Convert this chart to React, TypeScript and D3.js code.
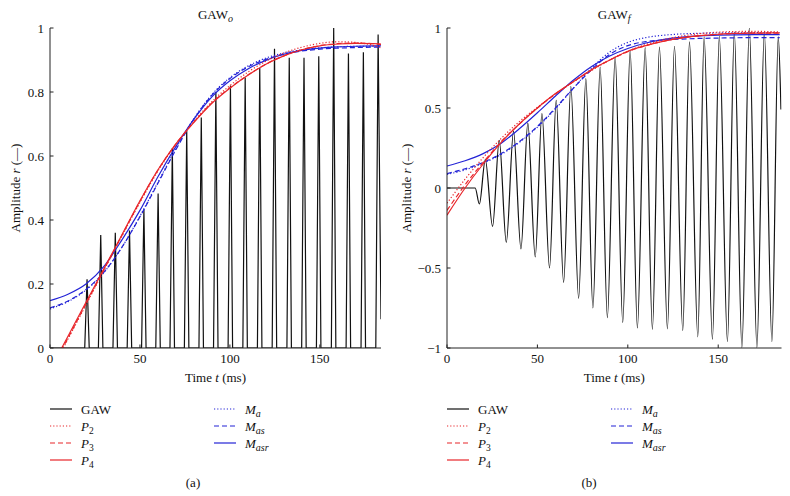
import React from "react";
import * as d3 from "d3";

// time grid (ms) for the fitted envelopes
const fitT = [0, 10, 20, 30, 40, 50, 60, 70, 80, 90, 100, 110, 120, 130, 140, 150, 160, 170, 180, 184];

// panel (a): GAW_o
const p2O = [-0.08, 0.028, 0.135, 0.243, 0.35, 0.455, 0.553, 0.637, 0.708, 0.77, 0.82, 0.862, 0.896, 0.922, 0.94, 0.952, 0.957, 0.955, 0.945, 0.938];
const p3O = [-0.075, 0.031, 0.138, 0.245, 0.352, 0.458, 0.556, 0.638, 0.706, 0.766, 0.813, 0.853, 0.887, 0.913, 0.932, 0.945, 0.951, 0.953, 0.951, 0.948];
const p4O = [-0.069, 0.037, 0.143, 0.248, 0.354, 0.46, 0.557, 0.638, 0.705, 0.765, 0.812, 0.852, 0.887, 0.913, 0.932, 0.944, 0.95, 0.952, 0.951, 0.95];
const maO = [0.122, 0.145, 0.181, 0.236, 0.315, 0.412, 0.518, 0.623, 0.717, 0.792, 0.845, 0.881, 0.906, 0.922, 0.932, 0.938, 0.941, 0.943, 0.943, 0.943];
const masO = [0.125, 0.147, 0.183, 0.237, 0.315, 0.41, 0.515, 0.62, 0.715, 0.79, 0.842, 0.878, 0.902, 0.918, 0.928, 0.934, 0.937, 0.939, 0.94, 0.94];
const masrO = [0.148, 0.168, 0.2, 0.255, 0.338, 0.43, 0.535, 0.63, 0.715, 0.785, 0.835, 0.872, 0.899, 0.918, 0.93, 0.937, 0.941, 0.943, 0.944, 0.944];

// glottal pulses of GAW_o: peak time (ms) and peak amplitude
const pulseT = [20.6, 28.2, 36.3, 44.2, 52.2, 60.1, 68.0, 76.0, 84.1, 92.2, 100.3, 108.5, 116.6, 124.8, 133.0, 141.2, 149.4, 157.7, 165.9, 174.2, 182.4];
const pulseV = [0.215, 0.353, 0.36, 0.367, 0.433, 0.483, 0.625, 0.68, 0.72, 0.8, 0.82, 0.845, 0.875, 0.935, 0.907, 0.907, 0.912, 1.0, 0.92, 0.924, 0.98];
const gawOEnd = [184, 0.09];

// panel (b): GAW_f
const p2F = [-0.095, 0.055, 0.19, 0.31, 0.415, 0.505, 0.588, 0.664, 0.735, 0.8, 0.855, 0.897, 0.928, 0.95, 0.965, 0.974, 0.978, 0.979, 0.977, 0.975];
const p3F = [-0.14, 0.02, 0.16, 0.29, 0.4, 0.5, 0.588, 0.665, 0.738, 0.8, 0.852, 0.89, 0.918, 0.938, 0.952, 0.961, 0.966, 0.968, 0.968, 0.967];
const p4F = [-0.17, 0.0, 0.15, 0.285, 0.4, 0.5, 0.59, 0.665, 0.74, 0.8, 0.855, 0.89, 0.918, 0.938, 0.952, 0.961, 0.966, 0.968, 0.969, 0.969];
const maF = [0.085, 0.113, 0.155, 0.21, 0.285, 0.38, 0.495, 0.625, 0.75, 0.85, 0.91, 0.94, 0.955, 0.963, 0.967, 0.969, 0.97, 0.971, 0.971, 0.971];
const masF = [0.09, 0.12, 0.16, 0.215, 0.29, 0.385, 0.5, 0.625, 0.74, 0.835, 0.89, 0.915, 0.925, 0.931, 0.935, 0.937, 0.939, 0.94, 0.94, 0.94];
const masrF = [0.1375, 0.17, 0.215, 0.28, 0.37, 0.47, 0.575, 0.675, 0.76, 0.825, 0.872, 0.906, 0.929, 0.943, 0.951, 0.955, 0.957, 0.958, 0.958, 0.958];

// GAW_f extremes
const gawFStart = [[0, 0], [15.6, 0]];
const troughT = [17.9, 25.2, 32.8, 40.9, 48.8, 56.7, 64.5, 72.8, 80.7, 88.7, 97.2, 105.3, 113.6, 121.9, 130.4, 138.7, 146.8, 155.1, 163.1, 171.4, 179.7];
const troughV = [-0.1, -0.24, -0.34, -0.38, -0.43, -0.5, -0.59, -0.69, -0.75, -0.81, -0.84, -0.875, -0.883, -0.88, -0.89, -0.93, -0.945, -0.96, -0.997, -0.997, -0.96];
const peakT = [21.2, 28.9, 36.8, 44.7, 52.5, 60.4, 68.5, 76.8, 84.7, 93.0, 101.3, 109.6, 117.5, 125.8, 134.1, 142.2, 150.6, 158.9, 167.2, 175.5, 183.2];
const peakV = [0.177, 0.298, 0.356, 0.406, 0.465, 0.548, 0.636, 0.684, 0.756, 0.819, 0.86, 0.877, 0.881, 0.886, 0.913, 0.944, 0.948, 0.975, 1.0, 0.975, 0.944];
const gawFEnd = [184.7, 0.49];

const ticksO = [0, 0.2, 0.4, 0.6, 0.8, 1];
const ticksF = [-1, -0.5, 0, 0.5, 1];
const ticksT = [0, 50, 100, 150];

const RED = "#e8262b";
const BLUE = "#2323d6";
const FONT = "'Liberation Serif', 'DejaVu Serif', serif";

const styles = {
  p2: { color: RED, dash: "1.2,2" },
  p3: { color: RED, dash: "5,3" },
  p4: { color: RED, dash: undefined },
  ma: { color: BLUE, dash: "1.2,2" },
  mas: { color: BLUE, dash: "5,3" },
  masr: { color: BLUE, dash: undefined },
};

type Fit = { key: keyof typeof styles; v: number[] };

function Panel({ id, left, right, yDomain, tMax, yTicks, title, sub, gaw, curve, fits, letter, ylabelX, captionX }: any) {
  const top = 28, bottom = 348;
  const x = d3.scaleLinear().domain([0, tMax]).range([left, right]);
  const y = d3.scaleLinear().domain(yDomain).range([bottom, top]);
  const line = d3.line<number[]>().x((d) => x(d[0])).y((d) => y(d[1])).curve(curve);
  const fitLine = d3.line<number>().x((_, i) => x(fitT[i])).y((d) => y(d)).curve(d3.curveMonotoneX);
  const fmt = d3.format("");
  const cx = (left + right) / 2;
  return (
    <g fontFamily={FONT} fill="#111">
      <defs>
        <clipPath id={id}>
          <rect x={left} y={top} width={right - left} height={bottom - top} />
        </clipPath>
      </defs>
      <text x={cx} y={19} textAnchor="middle" fontSize={13}>
        GAW<tspan fontStyle="italic" fontSize={10} dy={3}>{sub}</tspan>
      </text>
      <g clipPath={`url(#${id})`}>
        <path d={line(gaw) || ""} fill="none" stroke="#111" strokeWidth={1.2} />
        {fits.map((f: Fit) => (
          <path key={f.key} d={fitLine(f.v) || ""} fill="none" stroke={styles[f.key].color}
            strokeWidth={1.2} strokeDasharray={styles[f.key].dash} />
        ))}
      </g>
      <line x1={left} x2={left} y1={top} y2={bottom} stroke="#222" strokeWidth={1} />
      <line x1={left} x2={right} y1={bottom} y2={bottom} stroke="#222" strokeWidth={1} />
      {yTicks.map((t: number) => (
        <g key={t}>
          <line x1={left} x2={left + 3.5} y1={y(t)} y2={y(t)} stroke="#222" />
          <text x={left - 6} y={y(t) + 4.5} textAnchor="end" fontSize={13}>{fmt(t)}</text>
        </g>
      ))}
      {ticksT.map((t) => (
        <g key={t}>
          <line x1={x(t)} x2={x(t)} y1={bottom} y2={bottom - 3.5} stroke="#222" />
          <text x={x(t)} y={363} textAnchor="middle" fontSize={13}>{t}</text>
        </g>
      ))}
      <text x={cx} y={382} textAnchor="middle" fontSize={13}>
        Time <tspan fontStyle="italic">t</tspan> (ms)
      </text>
      <text transform={`translate(${ylabelX},188) rotate(-90)`} textAnchor="middle" fontSize={13}>
        Amplitude <tspan fontStyle="italic">r</tspan> (—)
      </text>
      <Legend x0={left} />
      <text x={captionX} y={487} textAnchor="middle" fontSize={13}>({letter})</text>
    </g>
  );
}

function Legend({ x0 }: { x0: number }) {
  const rows = [409, 426, 443, 460];
  const col2 = x0 + 164;
  const item = (lx: number, ly: number, color: string, dash: string | undefined, label: React.ReactNode, k: string) => (
    <g key={k}>
      <line x1={lx} x2={lx + 22} y1={ly} y2={ly} stroke={color} strokeWidth={1.2} strokeDasharray={dash} />
      <text x={lx + 31} y={ly + 4.5} fontSize={13}>{label}</text>
    </g>
  );
  const P = (n: string) => (<><tspan fontStyle="italic">P</tspan><tspan fontSize={9.5} dy={3}>{n}</tspan></>);
  const M = (n: string) => (<><tspan fontStyle="italic">M</tspan><tspan fontStyle="italic" fontSize={10} dy={3}>{n}</tspan></>);
  return (
    <g>
      {item(x0, rows[0], "#111", undefined, "GAW", "g")}
      {item(x0, rows[1], styles.p2.color, styles.p2.dash, P("2"), "p2")}
      {item(x0, rows[2], styles.p3.color, styles.p3.dash, P("3"), "p3")}
      {item(x0, rows[3], styles.p4.color, styles.p4.dash, P("4"), "p4")}
      {item(col2, rows[0], styles.ma.color, styles.ma.dash, M("a"), "ma")}
      {item(col2, rows[1], styles.mas.color, styles.mas.dash, M("as"), "mas")}
      {item(col2, rows[2], styles.masr.color, styles.masr.dash, M("asr"), "masr")}
    </g>
  );
}

export default function App() {
  // GAW_o: narrow triangular pulses built from the peak list
  const gawO: number[][] = [[0, 0]];
  pulseT.forEach((t, i) => {
    gawO.push([t - 1.3, 0], [t, pulseV[i]]);
    if (i < pulseT.length - 1) gawO.push([t + 1.2, 0]);
  });
  gawO.push(gawOEnd);

  const gawF: number[][] = [...gawFStart];
  troughT.forEach((t, i) => {
    gawF.push([t, troughV[i]], [peakT[i], peakV[i]]);
  });
  gawF.push(gawFEnd);

  const fitsO: Fit[] = [
    { key: "masr", v: masrO }, { key: "mas", v: masO }, { key: "ma", v: maO },
    { key: "p2", v: p2O }, { key: "p3", v: p3O }, { key: "p4", v: p4O },
  ];
  const fitsF: Fit[] = [
    { key: "masr", v: masrF }, { key: "mas", v: masF }, { key: "ma", v: maF },
    { key: "p2", v: p2F }, { key: "p3", v: p3F }, { key: "p4", v: p4F },
  ];

  return (
    <svg width={790} height={496} style={{ position: "absolute", left: 0, top: 0, background: "#fff" }}>
      <Panel id="clipA" left={50} right={381} yDomain={[0, 1]} tMax={184} yTicks={ticksO}
        title="GAW" sub="o" gaw={gawO} curve={d3.curveLinear} fits={fitsO} letter="a" ylabelX={20} captionX={193} />
      <Panel id="clipB" left={447} right={781.5} yDomain={[-1, 1]} tMax={185} yTicks={ticksF}
        title="GAW" sub="f" gaw={gawF} curve={d3.curveMonotoneX} fits={fitsF} letter="b" ylabelX={411} captionX={589} />
    </svg>
  );
}
